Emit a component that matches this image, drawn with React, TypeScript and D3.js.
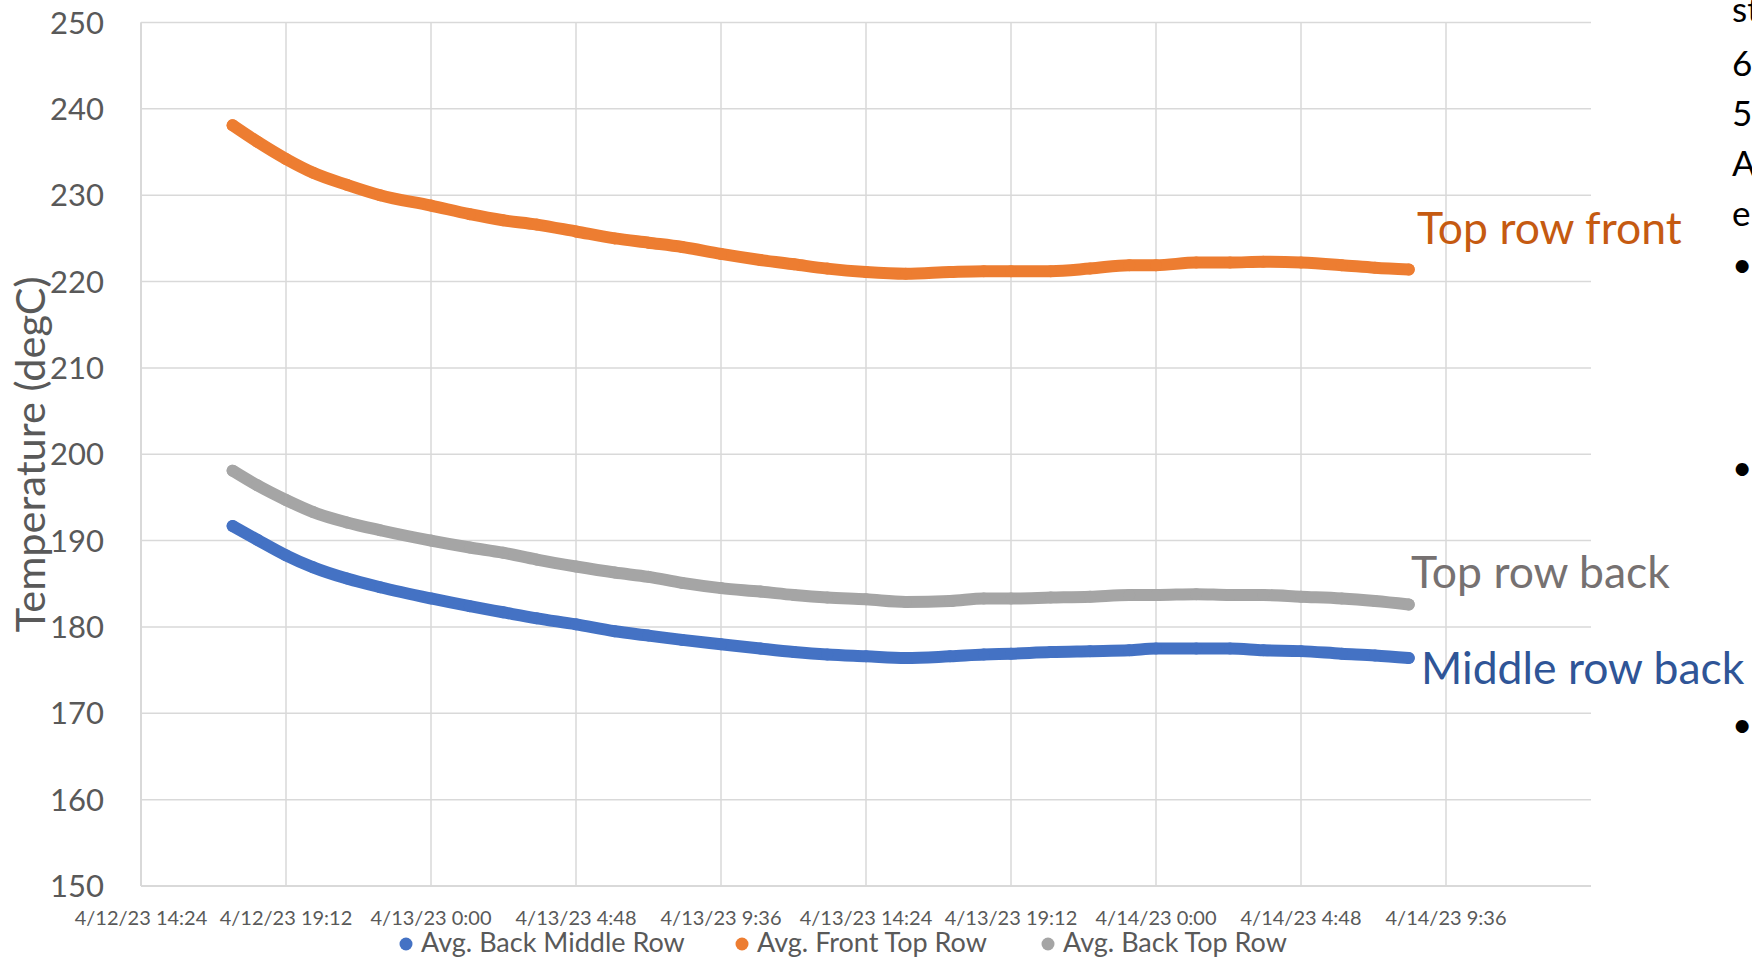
import React, { useEffect } from 'react';
import * as d3 from 'd3';

// ---------- data ----------
const times = [
  "4/12/23 17:26", "4/12/23 18:15", "4/12/23 19:12", "4/12/23 20:06", "4/12/23 21:13",
  "4/12/23 22:19", "4/13/23 0:00", "4/13/23 1:17", "4/13/23 2:23", "4/13/23 3:30",
  "4/13/23 4:48", "4/13/23 6:05", "4/13/23 7:12", "4/13/23 8:19", "4/13/23 9:36",
  "4/13/23 10:54", "4/13/23 12:01", "4/13/23 13:07", "4/13/23 14:24", "4/13/23 15:43",
  "4/13/23 17:11", "4/13/23 18:18", "4/13/23 19:12", "4/13/23 20:31", "4/13/23 21:49",
  "4/13/23 23:07", "4/14/23 0:00", "4/14/23 1:20", "4/14/23 2:27", "4/14/23 3:33",
  "4/14/23 4:48", "4/14/23 6:09", "4/14/23 7:15", "4/14/23 8:22"
];

const avgBackMiddleRow = [
  191.7, 190.1, 188.3, 186.9, 185.6, 184.6, 183.3, 182.4, 181.7, 181.0,
  180.3, 179.5, 179.0, 178.5, 178.0, 177.5, 177.1, 176.8, 176.6, 176.4,
  176.6, 176.8, 176.9, 177.1, 177.2, 177.3, 177.5, 177.5, 177.5, 177.3,
  177.2, 176.9, 176.7, 176.4
];

const avgFrontTopRow = [
  238.1, 236.2, 234.2, 232.6, 231.2, 230.0, 228.8, 227.8, 227.1, 226.6,
  225.8, 225.0, 224.5, 224.0, 223.2, 222.5, 222.0, 221.5, 221.1, 220.9,
  221.1, 221.2, 221.2, 221.2, 221.5, 221.9, 221.9, 222.2, 222.2, 222.3,
  222.2, 221.9, 221.6, 221.4
];

const avgBackTopRow = [
  198.1, 196.4, 194.7, 193.3, 192.1, 191.2, 190.0, 189.2, 188.6, 187.8,
  187.0, 186.3, 185.8, 185.1, 184.5, 184.1, 183.7, 183.4, 183.2, 182.9,
  183.0, 183.3, 183.3, 183.4, 183.5, 183.7, 183.7, 183.8, 183.7, 183.7,
  183.5, 183.3, 183.0, 182.6
];

const yTickValues = [150, 160, 170, 180, 190, 200, 210, 220, 230, 240, 250];
const xTickLabels = [
  "4/12/23 14:24", "4/12/23 19:12", "4/13/23 0:00", "4/13/23 4:48", "4/13/23 9:36",
  "4/13/23 14:24", "4/13/23 19:12", "4/14/23 0:00", "4/14/23 4:48", "4/14/23 9:36"
];
const xDomainEnd = "4/14/23 14:24";

const seriesNames = ["Avg. Back Middle Row", "Avg. Front Top Row", "Avg. Back Top Row"];
const seriesColors = ["#4472C4", "#ED7D31", "#A5A5A5"];
const yAxisTitle = "Temperature (degC)";
const calloutTexts = ["Middle row back", "Top row front", "Top row back"];
const calloutColors = ["#2F5597", "#C55A11", "#767171"];
const sideTextLines = ["st", "6", "5", "A", "e"];
const sideBullets = ["•", "•", "•"];

// ---------- layout ----------
const W = 1752;
const H = 958;
const PLOT = { left: 141, right: 1591, top: 22.5, bottom: 886 };
const FONT = "Lato, 'Open Sans', sans-serif";
const TEXT_GREY = "#595959";
const GRID = "#D9D9D9";

export default function App() {
  useEffect(() => {
    document.body.style.margin = '0';
  }, []);

  const parse = d3.timeParse("%m/%d/%y %H:%M");
  const tickDates = xTickLabels.map((s) => parse(s) as Date);
  const endDate = parse(xDomainEnd) as Date;

  const x = d3.scaleTime().domain([tickDates[0], endDate]).range([PLOT.left, PLOT.right]);
  const y = d3.scaleLinear().domain([150, 250]).range([PLOT.bottom, PLOT.top]);

  const allSeries = [avgBackMiddleRow, avgFrontTopRow, avgBackTopRow].map((vals, i) => ({
    name: seriesNames[i],
    color: seriesColors[i],
    pts: times.map((t, j) => ({ t: parse(t) as Date, v: vals[j] })),
  }));

  const line = d3
    .line<{ t: Date; v: number }>()
    .x((d) => x(d.t))
    .y((d) => y(d.v))
    .curve(d3.curveMonotoneX);

  const legendX = [406, 742, 1048];
  const calloutPos = [
    { x: 1421, y: 684 },
    { x: 1417, y: 244 },
    { x: 1411, y: 588 },
  ];
  const sideBaselines = [22, 76, 126, 176, 226];
  const bulletBaselines = [277, 480, 737];

  return (
    <svg
      width={W}
      height={H}
      style={{ position: 'absolute', left: 0, top: 0, background: '#fff' }}
      fontFamily={FONT}
    >
      <rect x={0} y={0} width={W} height={H} fill="#fff" />

      {/* horizontal gridlines */}
      {yTickValues.map((v) => (
        <line key={'h' + v} x1={PLOT.left} x2={PLOT.right} y1={y(v)} y2={y(v)} stroke={GRID} strokeWidth={1.5} />
      ))}
      {/* vertical gridlines */}
      {tickDates.map((d, i) => (
        <line key={'v' + i} x1={x(d)} x2={x(d)} y1={PLOT.top} y2={PLOT.bottom} stroke={GRID} strokeWidth={1.5} />
      ))}
      {/* axis lines */}
      <line x1={PLOT.left} x2={PLOT.left} y1={PLOT.top} y2={PLOT.bottom} stroke={GRID} strokeWidth={2} />
      <line x1={PLOT.left} x2={PLOT.right} y1={PLOT.bottom} y2={PLOT.bottom} stroke={GRID} strokeWidth={2} />

      {/* y tick labels */}
      {yTickValues.map((v) => (
        <text key={'yl' + v} x={104} y={y(v) + 11} textAnchor="end" fontSize={31} fill={TEXT_GREY}>
          {v}
        </text>
      ))}

      {/* x tick labels */}
      {tickDates.map((d, i) => (
        <text key={'xl' + i} x={x(d)} y={925} textAnchor="middle" fontSize={20} fill={TEXT_GREY}>
          {xTickLabels[i]}
        </text>
      ))}

      {/* y axis title */}
      <text
        transform={`translate(45, ${(PLOT.top + PLOT.bottom) / 2}) rotate(-90)`}
        textAnchor="middle"
        fontSize={41.5}
        fill={TEXT_GREY}
      >
        {yAxisTitle}
      </text>

      {/* series */}
      {allSeries.map((s) => (
        <g key={s.name}>
          <path
            d={line(s.pts) || ''}
            fill="none"
            stroke={s.color}
            strokeWidth={12}
            strokeLinecap="round"
            strokeLinejoin="round"
          />
          {s.pts.map((p, j) => (
            <circle key={j} cx={x(p.t)} cy={y(p.v)} r={6} fill={s.color} />
          ))}
        </g>
      ))}

      {/* callouts */}
      {calloutTexts.map((t, i) => (
        <text key={'c' + i} x={calloutPos[i].x} y={calloutPos[i].y} fontSize={44.5} fill={calloutColors[i]}>
          {t}
        </text>
      ))}

      {/* legend */}
      {seriesNames.map((n, i) => (
        <g key={'lg' + i}>
          <circle cx={legendX[i]} cy={944} r={6.5} fill={seriesColors[i]} />
          <text x={legendX[i] + 15} y={952} fontSize={27} fill={TEXT_GREY}>
            {n}
          </text>
        </g>
      ))}

      {/* clipped slide text at right edge */}
      {sideTextLines.map((t, i) => (
        <text key={'s' + i} x={1732} y={sideBaselines[i]} fontSize={35} fill="#000">
          {t}
        </text>
      ))}
      {sideBullets.map((b, i) => (
        <text key={'b' + i} x={1732} y={bulletBaselines[i]} fontSize={35} fill="#000">
          {b}
        </text>
      ))}
    </svg>
  );
}
